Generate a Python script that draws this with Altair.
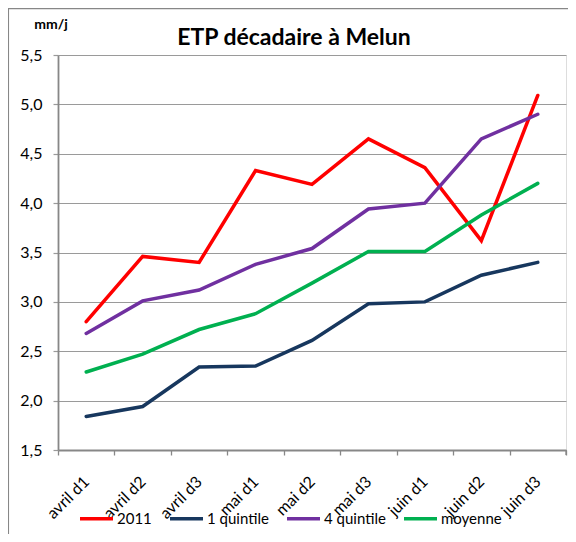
import altair as alt
import pandas as pd

categories = ["avril d1", "avril d2", "avril d3", "mai d1", "mai d2", "mai d3", "juin d1", "juin d2", "juin d3"]
series_names = ["2011", "1 quintile", "4 quintile", "moyenne"]
v2011 = [2.80, 3.46, 3.40, 4.33, 4.19, 4.65, 4.36, 3.62, 5.09]
q1 = [1.84, 1.94, 2.34, 2.35, 2.61, 2.98, 3.00, 3.27, 3.40]
q4 = [2.68, 3.01, 3.12, 3.38, 3.54, 3.94, 4.00, 4.65, 4.90]
moyenne = [2.29, 2.47, 2.72, 2.88, 3.19, 3.51, 3.51, 3.88, 4.20]
colors = ["#FF0000", "#17375E", "#7030A0", "#00B050"]
y_ticks = [1.5, 2.0, 2.5, 3.0, 3.5, 4.0, 4.5, 5.0, 5.5]
title_text = "ETP décadaire à Melun"
unit_text = "mm/j"

rows = []
for name, vals in zip(series_names, [v2011, q1, q4, moyenne]):
    for c, v in zip(categories, vals):
        rows.append({"cat": c, "serie": name, "val": v, "ord": series_names.index(name)})
df = pd.DataFrame(rows)

W, H = 508, 395
FONT = "Lato"

x_enc = alt.X(
    "cat:N", sort=categories, bandPosition=0.5,
    scale=alt.Scale(type="band", paddingInner=0, paddingOuter=0),
    axis=alt.Axis(
        title=None, tickBand="extent", labelAngle=-45, labelAlign="right",
        labelBaseline="middle", labelPadding=24, tickSize=5, grid=False,
        domainColor="#878787", domainWidth=1.8, tickColor="#878787", tickWidth=1.3,
        labelFont=FONT, labelFontSize=16, labelColor="#000000",
    ),
)
y_enc = alt.Y(
    "val:Q",
    scale=alt.Scale(domain=[1.5, 5.5], nice=False, zero=False),
    axis=alt.Axis(
        title=None, values=y_ticks, tickSize=5, grid=True, gridColor="#9a9a9a",
        gridWidth=1.2, domainColor="#878787", domainWidth=1.8, tickColor="#9a9a9a",
        tickWidth=1.2, labelPadding=11,
        labelExpr="replace(format(datum.value, '.1f'), '.', ',')",
        labelFont=FONT, labelFontSize=16, labelColor="#000000",
    ),
)

lines = alt.Chart(df).mark_line(strokeWidth=3.5, strokeJoin="miter", strokeCap="round").encode(
    x=x_enc,
    y=y_enc,
    color=alt.Color(
        "serie:N",
        scale=alt.Scale(domain=series_names, range=colors),
        sort=series_names,
        legend=alt.Legend(
            title=None, orient="none", direction="horizontal", legendX=20, legendY=445,
            symbolType="stroke", symbolSize=1089, symbolStrokeWidth=3.5,
            labelOffset=2, columnPadding=11, labelFont=FONT, labelFontSize=15,
            labelColor="#000000", padding=0,
        ),
    ),
    order=alt.Order("ord:Q"),
)

one = alt.Data(values=[{}])
title_mark = alt.Chart(one).mark_text(
    text=title_text, font=FONT, fontSize=23, fontWeight="bold", color="#000000",
    align="center", baseline="alphabetic",
).encode(x=alt.value(236), y=alt.value(-10))
unit_mark = alt.Chart(one).mark_text(
    text=unit_text, font=FONT, fontSize=14, fontWeight="bold", color="#000000",
    align="center", baseline="alphabetic",
).encode(x=alt.value(-7), y=alt.value(-26))
last_tick = alt.Chart(one).mark_rule(color="#878787", strokeWidth=1.3).encode(
    x=alt.value(W), y=alt.value(H), y2=alt.value(H + 5)
)
border_top = alt.Chart(one).mark_rule(color="#878787", strokeWidth=1.3).encode(
    x=alt.value(-50), x2=alt.value(W + 10), y=alt.value(-46.3)
)
border_left = alt.Chart(one).mark_rule(color="#878787", strokeWidth=1.3).encode(
    x=alt.value(-49.6), y=alt.value(-46.3), y2=alt.value(H + 100)
)

chart = alt.layer(lines, title_mark, unit_mark, last_tick, border_top, border_left).properties(
    width=W, height=H,
    autosize=alt.AutoSizeParams(type="none"),
    padding={"left": 50, "top": 47, "right": 2, "bottom": 84},
).configure_view(stroke=None).configure(background="#ffffff")

chart = chart.configure_legend(orient="none")
chart.save("out.html", embed_options={"renderer": "svg", "actions": False})
